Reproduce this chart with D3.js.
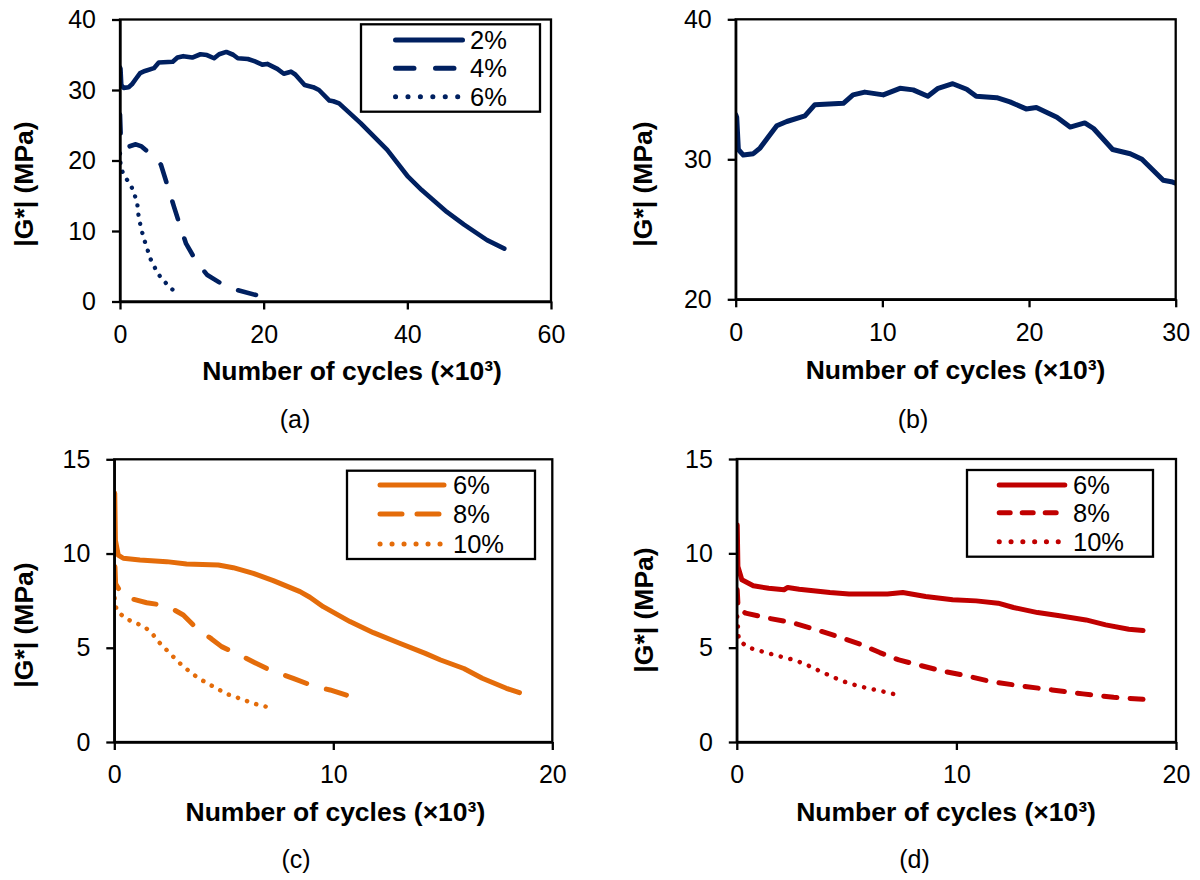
<!DOCTYPE html>
<html>
<head>
<meta charset="utf-8">
<script src="https://cdn.jsdelivr.net/npm/d3@7"></script>
<style>
  html, body { margin: 0; padding: 0; background: #fff; }
  svg { display: block; }
  text { font-family: "Liberation Sans", Arial, sans-serif; fill: #000; }
</style>
</head>
<body>
<svg id="fig" width="1200" height="880"></svg>
<script>
// |G*| versus number of cycles (×10³); each series is [cycles, modulus in MPa]

// (a) and (b): strain levels 2 %, 4 %, 6 %
const series2pct = [
  [0, 33.2], [0.07, 33.0], [0.18, 30.7], [0.52, 30.3], [1.2, 30.4], [1.66, 30.8],
  [2.22, 31.6], [2.8, 32.4], [3.48, 32.7], [4.72, 33.1], [5.4, 33.9], [7.34, 34.0],
  [8.0, 34.6], [8.8, 34.8], [10.06, 34.6], [11.2, 35.07], [12.1, 34.96], [13.1, 34.5],
  [13.8, 35.07], [14.8, 35.4], [15.75, 35.0], [16.4, 34.5], [17.8, 34.4], [18.7, 34.1],
  [19.8, 33.6], [20.5, 33.7], [21.9, 33.0], [22.8, 32.3], [23.8, 32.6], [24.4, 32.2],
  [25.7, 30.7], [26.9, 30.4], [27.7, 30.0], [29.15, 28.5], [29.7, 28.4], [30.5, 28.1],
  [33.5, 25.3], [37.2, 21.5], [40.1, 17.7], [42.0, 15.8], [45.5, 12.7], [47.9, 10.9],
  [51.1, 8.7], [53.5, 7.5]
];
const series4pct = [
  [0, 26.5], [0.1, 23.5], [0.4, 22.0], [1.0, 21.9], [2.2, 22.3], [3.0, 22.0], [3.8, 21.3],
  [4.8, 20.5], [5.7, 19.4], [6.5, 16.8], [7.5, 13.5], [8.4, 10.6], [9.2, 8.2], [10.5, 5.9],
  [12.1, 3.8], [14.0, 2.6], [16.4, 1.6], [19.0, 0.9]
];
const series6pctA = [
  [0, 21.0], [0.1, 19.0], [0.64, 17.7], [1.43, 16.7], [1.97, 15.35], [2.4, 13.9], [2.6, 12.0],
  [3.0, 10.1], [3.4, 8.7], [4.26, 6.0], [4.9, 4.7], [5.6, 3.5], [6.4, 2.6], [7.3, 1.7]
];

// (c): 6 %, 8 %, 10 %
const seriesC6 = [
  [0.02, 13.2], [0.05, 10.7], [0.18, 9.92], [0.41, 9.75], [1.17, 9.66], [2.39, 9.57], [3.3, 9.45],
  [4.75, 9.39], [5.43, 9.25], [6.35, 8.95], [7.26, 8.56], [8.48, 7.98], [8.93, 7.68], [9.54, 7.18],
  [10.76, 6.39], [11.83, 5.8], [13.0, 5.25], [14.2, 4.7], [14.9, 4.35], [15.96, 3.9], [16.8, 3.38],
  [17.9, 2.85], [18.5, 2.62]
];
const seriesC8 = [
  [0.03, 9.3], [0.06, 8.4], [0.41, 7.71], [1.48, 7.39], [2.16, 7.27], [2.69, 7.04], [3.15, 6.74],
  [3.76, 6.03], [4.44, 5.47], [4.9, 5.06], [5.66, 4.65], [6.42, 4.21], [7.1, 3.82], [8.17, 3.38],
  [9.09, 2.97], [9.85, 2.76], [10.6, 2.49]
];
const seriesC10 = [
  [0.01, 8.15], [0.02, 7.36], [0.14, 6.92], [0.56, 6.53], [0.94, 6.33], [1.37, 6.12], [1.72, 5.77],
  [2.02, 5.32], [2.39, 4.88], [2.72, 4.49], [3.07, 4.09], [3.45, 3.73], [3.79, 3.43], [4.19, 3.15],
  [4.67, 2.85], [5.13, 2.55], [5.59, 2.37], [6.04, 2.18], [6.5, 2.0], [6.91, 1.88]
];

// (d): 6 %, 8 %, 10 %
const seriesD6 = [
  [0.02, 11.5], [0.05, 9.3], [0.23, 8.6], [0.75, 8.28], [1.45, 8.15], [2.15, 8.07], [2.32, 8.19],
  [2.84, 8.1], [4.24, 7.92], [5.11, 7.85], [6.86, 7.85], [7.56, 7.92], [8.6, 7.71], [9.83, 7.54],
  [10.9, 7.48], [11.9, 7.36], [12.6, 7.13], [13.7, 6.86], [14.7, 6.69], [15.9, 6.47], [16.8, 6.21],
  [17.85, 5.98], [18.5, 5.91]
];
const seriesD8 = [
  [0.02, 8.07], [0.06, 7.1], [0.4, 6.83], [1.45, 6.56], [2.5, 6.33], [3.54, 5.98], [4.59, 5.59],
  [5.64, 5.18], [6.51, 4.74], [7.38, 4.35], [8.25, 4.09], [9.48, 3.73], [10.5, 3.5], [11.57, 3.2],
  [12.97, 2.97], [14.36, 2.76], [15.76, 2.55], [17.16, 2.37], [18.5, 2.26]
];
const seriesD10 = [
  [0.02, 6.65], [0.09, 5.41], [0.49, 5.02], [1.0, 4.85], [1.45, 4.7], [1.88, 4.56], [2.32, 4.44],
  [2.67, 4.32], [3.1, 4.14], [3.5, 3.91], [3.89, 3.7], [4.33, 3.47], [4.76, 3.25], [5.2, 3.08],
  [5.64, 2.94], [6.16, 2.8], [6.68, 2.67], [7.12, 2.55]
];

// Legend labels and tick values
const legendA = ["2%", "4%", "6%"];
const legendCD = ["6%", "8%", "10%"];
const xTicksA = [0, 20, 40, 60];
const yTicksA = [0, 10, 20, 30, 40];
const xTicksB = [0, 10, 20, 30];
const yTicksB = [20, 30, 40];
const xTicksCD = [0, 10, 20];
const yTicksCD = [0, 5, 10, 15];
const panelLabels = ["(a)", "(b)", "(c)", "(d)"];
const xTitle = "Number of cycles (×10³)";
const yTitle = "|G*| (MPa)";

const NAVY = "#002060", ORANGE = "#E46C0A", RED = "#C00000";

const svg = d3.select("#fig");

// Stretch a [dash, gap] pattern slightly so the path both starts and ends on a dash
function fitDash(pathNode, pattern) {
  const [dash, gap] = pattern;
  const len = pathNode.getTotalLength();
  const period = dash + gap;
  const n = Math.max(1, Math.round((len - dash) / period));
  const k = (len - dash) / (n * period);
  return `${dash * k},${gap * k}`;
}

function drawPanel(p) {
  const g = svg.append("g");
  const x = d3.scaleLinear().domain(p.xDomain).range([p.left, p.right]);
  const y = d3.scaleLinear().domain(p.yDomain).range([p.bottom, p.top]);

  // series, clipped to the plotting area
  const clipId = "clip-" + p.id;
  g.append("clipPath").attr("id", clipId)
    .append("rect")
    .attr("x", p.left).attr("y", p.top - 4)
    .attr("width", p.right - p.left).attr("height", p.bottom - p.top + 4);

  const line = d3.line().x(d => x(d[0])).y(d => y(d[1]));
  const plot = g.append("g").attr("clip-path", `url(#${clipId})`);
  p.series.forEach(s => {
    const path = plot.append("path")
      .datum(s.data)
      .attr("d", line)
      .attr("fill", "none")
      .attr("stroke", p.color)
      .attr("stroke-width", s.width)
      .attr("stroke-linecap", "round")
      .attr("stroke-linejoin", "round");
    if (s.dash) path.attr("stroke-dasharray", fitDash(path.node(), s.dash));
  });

  // frame
  g.append("rect")
    .attr("x", p.left).attr("y", p.top)
    .attr("width", p.right - p.left).attr("height", p.bottom - p.top)
    .attr("fill", "none").attr("stroke", "#000").attr("stroke-width", 2.3);

  // axes
  const ax = g.append("g").attr("transform", `translate(0,${p.bottom})`)
    .call(d3.axisBottom(x).tickValues(p.xTicks).tickSize(8).tickSizeOuter(0).tickPadding(15.5));
  const ay = g.append("g").attr("transform", `translate(${p.left},0)`)
    .call(d3.axisLeft(y).tickValues(p.yTicks).tickSize(8).tickSizeOuter(0).tickPadding(16));
  [ax, ay].forEach(a => {
    a.select(".domain").attr("stroke", "#000").attr("stroke-width", 2.3);
    a.selectAll(".tick line").attr("stroke", "#000").attr("stroke-width", 2.3);
    a.selectAll(".tick text")
      .attr("font-family", '"Liberation Sans", Arial, sans-serif')
      .attr("font-size", 25).attr("fill", "#000");
  });

  // axis titles
  g.append("text")
    .attr("x", p.xTitleX).attr("y", p.xTitleY)
    .attr("text-anchor", "middle")
    .attr("font-size", 26.5).attr("font-weight", "bold")
    .text(xTitle);
  g.append("text")
    .attr("transform", `translate(${p.yTitleX},${p.yTitleY}) rotate(-90)`)
    .attr("text-anchor", "middle")
    .attr("font-size", 26.5).attr("font-weight", "bold")
    .text(yTitle);

  // panel label
  g.append("text")
    .attr("x", p.labelX).attr("y", p.labelY)
    .attr("text-anchor", "middle")
    .attr("font-size", 25)
    .text(p.label);

  // legend
  if (p.legend) {
    const L = p.legend;
    g.append("rect")
      .attr("x", L.x0).attr("y", L.y0)
      .attr("width", L.x1 - L.x0).attr("height", L.y1 - L.y0)
      .attr("fill", "#fff").attr("stroke", "#000").attr("stroke-width", 2.3);
    p.series.forEach((s, i) => {
      g.append("line")
        .attr("x1", L.lx0).attr("x2", L.lx1)
        .attr("y1", L.rows[i]).attr("y2", L.rows[i])
        .attr("stroke", p.color)
        .attr("stroke-width", 5)
        .attr("stroke-linecap", "round")
        .attr("stroke-dasharray", s.legendDash || null);
      g.append("text")
        .attr("x", L.tx).attr("y", L.rows[i] + 9)
        .attr("font-size", 25.5)
        .text(L.labels[i]);
    });
  }
}

// (a)
drawPanel({
  id: "a", left: 120, right: 551, top: 19.5, bottom: 301.5,
  xDomain: [0, 60], yDomain: [0, 40], xTicks: xTicksA, yTicks: yTicksA,
  color: NAVY,
  series: [
    { data: series2pct, width: 4.6 },
    { data: series4pct, width: 4.6, dash: [19, 21], legendDash: "18.5,21.5" },
    { data: series6pctA, width: 4.3, dash: [0.1, 9.3], legendDash: "0.1,12.33" }
  ],
  legend: { x0: 361, x1: 540, y0: 24.3, y1: 111.7, lx0: 395.5, lx1: 462.5,
            rows: [40, 68.3, 96.7], tx: 470, labels: legendA },
  xTitleX: 352, xTitleY: 380, yTitleX: 33, yTitleY: 184,
  label: panelLabels[0], labelX: 295, labelY: 428
});

// (b)
drawPanel({
  id: "b", left: 735.7, right: 1175.7, top: 19.3, bottom: 299.3,
  xDomain: [0, 30], yDomain: [20, 40], xTicks: xTicksB, yTicks: yTicksB,
  color: NAVY,
  series: [ { data: series2pct, width: 5 } ],
  xTitleX: 955.5, xTitleY: 379, yTitleX: 652, yTitleY: 184,
  label: panelLabels[1], labelX: 913, labelY: 428
});

// (c)
drawPanel({
  id: "c", left: 114.3, right: 552.3, top: 459.3, bottom: 742,
  xDomain: [0, 20], yDomain: [0, 15], xTicks: xTicksCD, yTicks: yTicksCD,
  color: ORANGE,
  series: [
    { data: seriesC6, width: 5 },
    { data: seriesC8, width: 5, dash: [21, 19], legendDash: "22,15" },
    { data: seriesC10, width: 4.5, dash: [0.1, 9.5], legendDash: "0.1,11.9" }
  ],
  legend: { x0: 347, x1: 535, y0: 470.7, y1: 559, lx0: 380, lx1: 444,
            rows: [485, 514, 544], tx: 453, labels: legendCD },
  xTitleX: 335.4, xTitleY: 821, yTitleX: 32.5, yTitleY: 625,
  label: panelLabels[2], labelX: 296, labelY: 868
});

// (d)
drawPanel({
  id: "d", left: 736.8, right: 1176, top: 459, bottom: 742,
  xDomain: [0, 20], yDomain: [0, 15], xTicks: xTicksCD, yTicks: yTicksCD,
  color: RED,
  series: [
    { data: seriesD6, width: 5 },
    { data: seriesD8, width: 5, dash: [13, 13], legendDash: "11,12" },
    { data: seriesD10, width: 4.5, dash: [0.1, 9.6], legendDash: "0.1,11.7" }
  ],
  legend: { x0: 967, x1: 1153, y0: 470, y1: 556.7, lx0: 999.2, lx1: 1064.8,
            rows: [485, 512.7, 541.7], tx: 1073, labels: legendCD },
  xTitleX: 946, xTitleY: 821, yTitleX: 652.5, yTitleY: 610,
  label: panelLabels[3], labelX: 914.5, labelY: 868
});
</script>
</body>
</html>
